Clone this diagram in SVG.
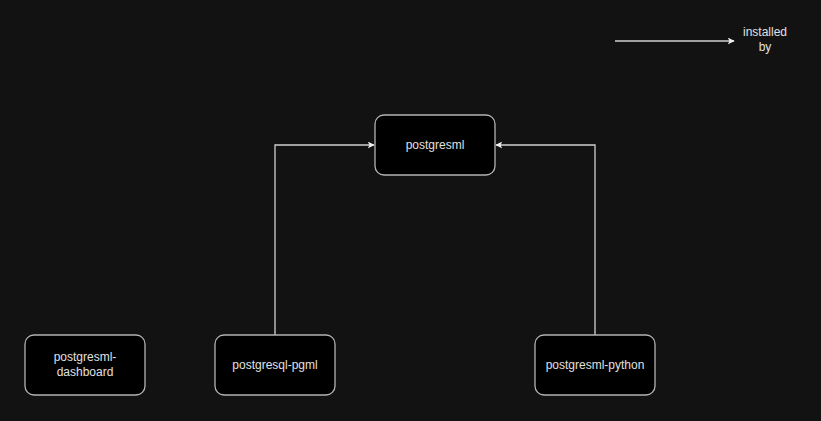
<svg xmlns="http://www.w3.org/2000/svg" width="821" height="421" viewBox="0 0 821 421">
<style>
.node rect{fill:#000;stroke:#b3b3b3;stroke-width:1.3}
text{font-family:"Liberation Sans",Arial,sans-serif;font-size:12px;fill:#e0e0e0;text-anchor:middle}
.edge{fill:none;stroke:#d0d0d0;stroke-width:1.3}
</style>
<defs>
<marker id="arr" viewBox="0 0 10 10" refX="9" refY="5" markerWidth="7" markerHeight="7" orient="auto" markerUnits="userSpaceOnUse">
<path d="M0,0 L10,5 L0,10 L2.5,5 Z" fill="#f0f0f0"/>
</marker>
</defs>
<rect width="821" height="421" fill="#121212"/>
<g id="connectors">
<path class="edge" d="M275,335 V145 H374" marker-end="url(#arr)"/>
<path class="edge" d="M595,335 V145 H496" marker-end="url(#arr)"/>
<path class="edge" d="M615,41 H734" marker-end="url(#arr)"/>
</g>
<g id="legend">
<text x="765" y="36">installed</text>
<text x="765" y="51">by</text>
</g>
<g id="postgresml" class="node">
<rect x="375" y="115" width="120" height="60" rx="9"/>
<text x="435" y="149">postgresml</text>
</g>
<g id="postgresml-dashboard" class="node">
<rect x="25" y="335" width="120" height="60" rx="9"/>
<text x="85" y="361">postgresml-</text>
<text x="85" y="376">dashboard</text>
</g>
<g id="postgresql-pgml" class="node">
<rect x="215" y="335" width="120" height="60" rx="9"/>
<text x="275" y="369">postgresql-pgml</text>
</g>
<g id="postgresml-python" class="node">
<rect x="535" y="335" width="120" height="60" rx="9"/>
<text x="595" y="369">postgresml-python</text>
</g>
</svg>
